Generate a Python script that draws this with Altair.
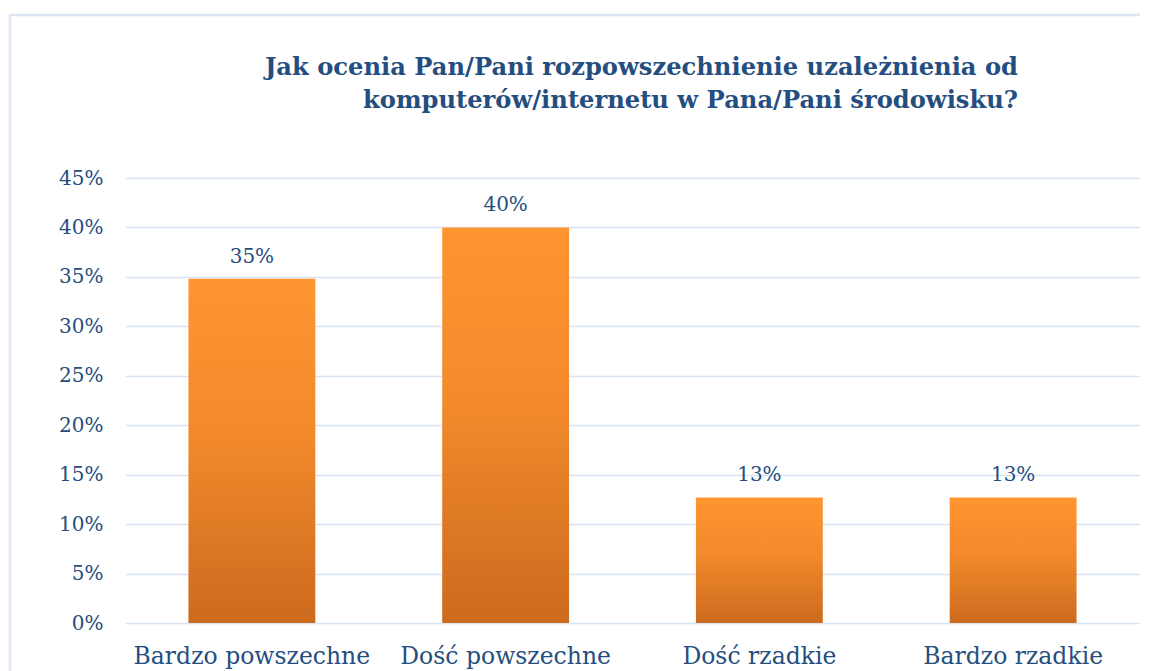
import altair as alt
import pandas as pd

categories = ["Bardzo powszechne", "Dość powszechne", "Dość rzadkie", "Bardzo rzadkie"]
values = [0.348, 0.40, 0.127, 0.127]
labels = ["35%", "40%", "13%", "13%"]
title_lines = ["Jak ocenia Pan/Pani rozpowszechnienie uzależnienia od",
               "komputerów/internetu w Pana/Pani środowisku?"]

df = pd.DataFrame({"cat": categories, "val": values, "lab": labels})

TXT = "#254E80"
GRID = "#D9E4F2"

grad = alt.Gradient(
    gradient="linear",
    stops=[alt.GradientStop(color="#FF9530", offset=0),
           alt.GradientStop(color="#F28A2C", offset=0.45),
           alt.GradientStop(color="#CC6A1E", offset=1)],
    x1=0, x2=0, y1=0, y2=1,
)

x = alt.X("cat:N", sort=categories, title=None,
          scale=alt.Scale(paddingInner=0.5, paddingOuter=0.25),
          axis=alt.Axis(labelAngle=0, labelFont="DejaVu Serif", labelFontSize=23.5,
                        labelColor=TXT, labelPadding=21, labelLimit=0,
                        ticks=False, domain=False))
y = alt.Y("val:Q", title=None,
          scale=alt.Scale(domain=[0, 0.45]),
          axis=alt.Axis(format=".0%", values=[i * 0.05 for i in range(10)],
                        labelFont="DejaVu Serif", labelFontSize=20, labelColor=TXT,
                        labelPadding=22, ticks=False, domain=False,
                        grid=True, gridColor=GRID, gridWidth=1.5))

one = pd.DataFrame({"a": [0]})
border = alt.Chart(one).mark_rect(
    fill=None, stroke="#DCE6F4", strokeWidth=2.5, clip=False
).encode(x=alt.value(-115), x2=alt.value(1100), y=alt.value(-163), y2=alt.value(700))

title_layers = []
for line, ypos in zip(title_lines, [-103, -70]):
    title_layers.append(
        alt.Chart(one).mark_text(
            align="right", baseline="alphabetic", font="DejaVu Serif", fontSize=24.2,
            fontWeight="bold", color=TXT, clip=False, text=line
        ).encode(x=alt.value(893), y=alt.value(ypos))
    )

bars = alt.Chart(df).mark_bar(fill=grad).encode(x=x, y=y)
text = alt.Chart(df).mark_text(baseline="bottom", dy=-12, font="DejaVu Serif",
                               fontSize=20, color=TXT).encode(x=x, y=y, text="lab:N")

chart = alt.layer(border, bars, text, *title_layers).properties(
    width=1015, height=445,
    autosize=alt.AutoSizeParams(type="none"),
    padding={"left": 117, "top": 170, "right": 0, "bottom": 60},
).configure_view(stroke=None)

chart.save("out.html", embed_options={"renderer": "svg", "actions": False})
